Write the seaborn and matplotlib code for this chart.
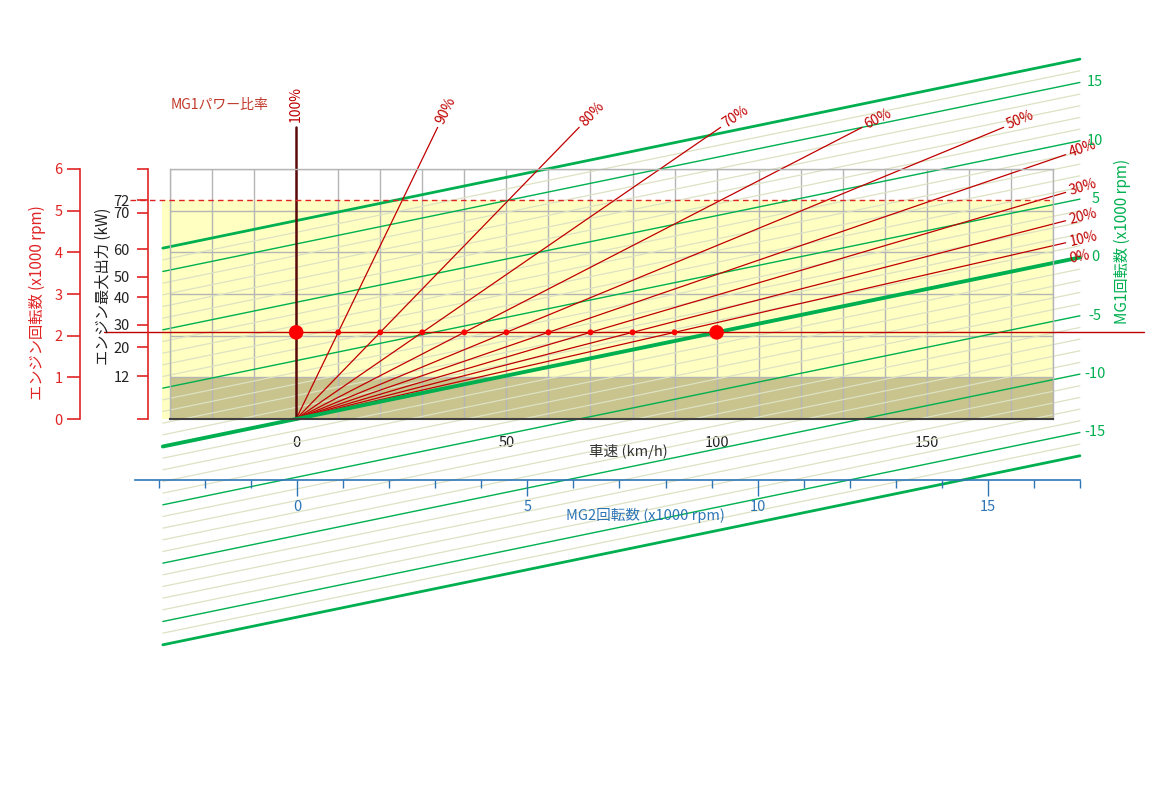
import numpy as np
import pandas as pd
import matplotlib
matplotlib.use('Agg')
import matplotlib.pyplot as plt
import seaborn as sns

# values
speed_ticks = [0, 50, 100, 150]              # km/h
speed_grid = list(range(-30, 181, 10))
rpm_ticks = [0, 1, 2, 3, 4, 5, 6]            # engine x1000 rpm
kw_labels = [12, 20, 30, 40, 50, 60, 70, 72]
kw_rpm = [1.03, 1.72, 2.26, 2.92, 3.42, 4.07, 4.95, 5.25]
mg2_ticks = [0, 5, 10, 15]
mg2_minor = list(range(-3, 18))
mg1_levels = list(range(-17, 18))            # MG1 x1000 rpm iso-lines
mg1_labels = [-15, -10, -5, 0, 5, 10, 15]
mg1_thick = [-17, 0, 17]
power_ratio = [90, 80, 70, 60, 50, 40, 30, 20, 10, 0]
dot_speeds = [10, 20, 30, 40, 50, 60, 70, 80, 90]
big_dot_speeds = [0, 100]

cruise_rpm = 2.08          # engine rpm of the red reference line
max_power_rpm = 5.25       # 72 kW
idle_rpm = 1.0
mg1_slope = 0.0208         # engine krpm per km/h on an MG1 iso-line
mg1_gain = 0.28            # engine krpm per MG1 krpm
mg2_kmh = 10.95            # km/h per 1000 rpm of MG2
mg1_span = [-31.7, 186.4]  # km/h extent of MG1 lines
cruise_span = [-45.7, 201.7]
dash_span = [-39.5, 180]
yellow_span = [-31.9, 180]
fan_top_rpm = 7.0
fan_max_kmh = 183

W, H = 1156, 800


def rect(x0, y0, x1, y1):
    return [x0 / W, 1 - y1 / H, (x1 - x0) / W, (y1 - y0) / H]


sns.set_theme(style='white')
plt.rcParams['font.family'] = ['Noto Sans CJK JP', 'DejaVu Sans']

RED = '#e02424'
DRED = '#c00000'
GREEN = '#00b050'
BLUE = '#2e75b6'

fig = plt.figure(figsize=(W / 100, H / 100), dpi=100)
ax = fig.add_axes(rect(170, 169, 1053, 419))

# fills
ax.fill_between(yellow_span, 0, max_power_rpm, color='#ffffc2', zorder=0.2,
                clip_on=False, lw=0)
ax.fill_between([-30, 180], 0, idle_rpm, color='#c9c38d', zorder=0.3, lw=0)

# MG1 iso-lines
rows = []
for n in mg1_levels:
    kind = 'thick' if n in mg1_thick else ('mid' if n % 5 == 0 else 'light')
    for v in mg1_span:
        rows.append(dict(level=n, kind=kind, speed=v,
                         rpm=mg1_slope * v + mg1_gain * n))
mg1 = pd.DataFrame(rows)

sns.lineplot(data=mg1[mg1.kind == 'light'], x='speed', y='rpm', units='level',
             estimator=None, color='#dce2c3', linewidth=0.9, ax=ax,
             clip_on=False, zorder=1, legend=False)
sns.lineplot(data=mg1[mg1.kind == 'mid'], x='speed', y='rpm', units='level',
             estimator=None, color=GREEN, linewidth=1.0, ax=ax,
             clip_on=False, zorder=1.5, legend=False)
sns.lineplot(data=mg1[(mg1.kind == 'thick') & (mg1.level != 0)], x='speed',
             y='rpm', units='level', estimator=None, color=GREEN,
             linewidth=2.0, ax=ax, clip_on=False, zorder=1.6, legend=False)

# MG1 power ratio fan
fan_rows = []
for p in power_ratio:
    k = cruise_rpm / (100 - p)
    v_end = min(fan_top_rpm / k, fan_max_kmh)
    fan_rows += [dict(p=p, speed=0, rpm=0), dict(p=p, speed=v_end, rpm=k * v_end)]
fan = pd.DataFrame(fan_rows)
sns.lineplot(data=fan, x='speed', y='rpm', units='p', estimator=None,
             color=DRED, linewidth=0.9, ax=ax, clip_on=False, zorder=2,
             legend=False)
ax.plot([0, 0], [0, fan_top_rpm], color='#5a0a0a', lw=1.8, clip_on=False,
        zorder=2.1)

# MG1 = 0 line on top
sns.lineplot(data=mg1[mg1.level == 0], x='speed', y='rpm', estimator=None,
             color=GREEN, linewidth=2.8, ax=ax, clip_on=False, zorder=2.5,
             legend=False)

# reference lines
ax.plot(cruise_span, [cruise_rpm] * 2, color=DRED, lw=1.0, clip_on=False,
        zorder=2.6)
ax.plot(dash_span, [max_power_rpm] * 2, color=RED, lw=1.0, ls=(0, (4, 3)),
        clip_on=False, zorder=2.6)

sns.scatterplot(x=dot_speeds, y=[cruise_rpm] * len(dot_speeds), color='#ff0000',
                s=18, edgecolor='none', ax=ax, zorder=3, clip_on=False)
sns.scatterplot(x=big_dot_speeds, y=[cruise_rpm] * len(big_dot_speeds),
                color='#ff0000', s=110, edgecolor='none', ax=ax, zorder=3,
                clip_on=False)

ax.set_xlim(-30, 180)
ax.set_ylim(0, 6)
ax.set_xlabel('')
ax.set_ylabel('')
ax.set_xticks(speed_grid)
ax.set_xticklabels([str(v) if v in speed_ticks else '' for v in speed_grid])
ax.set_yticks(rpm_ticks)
ax.tick_params(axis='x', length=0, pad=12, labelsize=10.5, labelcolor='#222222')
ax.tick_params(axis='y', length=0, labelleft=False)
ax.set_axisbelow(True)
ax.grid(True, color='#b5b5b5', lw=1.0)
ax.patch.set_visible(False)
for s in ['top', 'left', 'right']:
    ax.spines[s].set_color('#b5b5b5')
    ax.spines[s].set_linewidth(1.0)
ax.spines['bottom'].set_color('#404040')
ax.spines['bottom'].set_linewidth(1.5)

# labels of the fan lines
ax.annotate('100%', xy=(0, fan_top_rpm), xytext=(0, 4),
            textcoords='offset points', rotation=90, ha='left', va='center',
            rotation_mode='anchor', color=DRED, fontsize=10, annotation_clip=False)
for p in power_ratio:
    g = fan[fan.p == p]
    x1, y1 = g.speed.iloc[1], g.rpm.iloc[1]
    d = ax.transData.transform([(0, 0), (x1, y1)])
    ang = np.degrees(np.arctan2(d[1, 1] - d[0, 1], d[1, 0] - d[0, 0]))
    off = 3
    ax.annotate(f'{p}%', xy=(x1, y1),
                xytext=(off * np.cos(np.radians(ang)), off * np.sin(np.radians(ang))),
                textcoords='offset points', rotation=ang, ha='left', va='center',
                rotation_mode='anchor', color=DRED, fontsize=10,
                annotation_clip=False)

# MG1 labels at the right ends
for n in mg1_labels:
    ax.annotate(str(n), xy=(mg1_span[1], mg1_slope * mg1_span[1] + mg1_gain * n),
                xytext=(11, 0), textcoords='offset points', ha='center',
                va='center', color=GREEN, fontsize=10.5, annotation_clip=False)

# engine rpm scale
ax_rpm = fig.add_axes(rect(80, 169, 81, 419))
ax_rpm.set_ylim(0, 6)
ax_rpm.set_yticks(rpm_ticks)
ax_rpm.set_xticks([])
ax_rpm.patch.set_visible(False)
for s in ['top', 'right', 'bottom']:
    ax_rpm.spines[s].set_visible(False)
ax_rpm.spines['left'].set_color(RED)
ax_rpm.spines['left'].set_linewidth(1.2)
ax_rpm.tick_params(axis='y', direction='out', length=9.5, width=1.2, color=RED,
                   labelcolor=RED, labelsize=10.5, pad=3, left=True)

# engine max power scale
ax_kw = fig.add_axes(rect(148, 169, 149, 419))
ax_kw.set_ylim(0, 6)
ax_kw.set_yticks([0] + kw_rpm + [6])
ax_kw.set_yticklabels([''] + [str(k) for k in kw_labels] + [''])
ax_kw.set_xticks([])
ax_kw.patch.set_visible(False)
for s in ['top', 'right', 'bottom']:
    ax_kw.spines[s].set_visible(False)
ax_kw.spines['left'].set_color(RED)
ax_kw.spines['left'].set_linewidth(1.2)
ax_kw.tick_params(axis='y', direction='out', length=8, width=1.2, color=RED,
                  labelcolor='#222222', labelsize=10.5, pad=5, left=True)

# MG2 scale
x_lo = -3.516
x_hi = 17.0
ax_mg2 = fig.add_axes(rect(135, 479, 135 + (x_hi - x_lo) * 46.07, 480))
ax_mg2.set_xlim(x_lo, x_hi)
ax_mg2.set_yticks([])
ax_mg2.set_xticks(mg2_ticks)
ax_mg2.set_xticks(mg2_minor, minor=True)
ax_mg2.patch.set_visible(False)
for s in ['top', 'right', 'left']:
    ax_mg2.spines[s].set_visible(False)
ax_mg2.spines['bottom'].set_color(BLUE)
ax_mg2.spines['bottom'].set_linewidth(1.2)
ax_mg2.tick_params(axis='x', which='major', direction='out', length=11.5,
                   width=1.0, color=BLUE, labelcolor=BLUE, labelsize=10.5,
                   pad=3, bottom=True)
ax_mg2.tick_params(axis='x', which='minor', direction='out', length=6,
                   width=1.0, color=BLUE, bottom=True)

# axis titles
def ftext(x, y, s, **kw):
    fig.text(x / W, 1 - y / H, s, ha='center', va='center', **kw)


ftext(37, 303, 'エンジン回転数 (x1000 rpm)', rotation=90, color=RED, fontsize=11)
ftext(103, 286, 'エンジン最大出力 (kW)', rotation=90, color='#222222', fontsize=11)
ftext(220, 105, 'MG1パワー比率', color='#c0392b', fontsize=10)
ftext(628, 452, '車速 (km/h)', color='#333333', fontsize=10.5)
ftext(645, 515, 'MG2回転数 (x1000 rpm)', color=BLUE, fontsize=10.5)
ftext(1122, 241, 'MG1回転数 (x1000 rpm)', rotation=90, color=GREEN, fontsize=11)

fig.savefig('out.png', dpi=100)
